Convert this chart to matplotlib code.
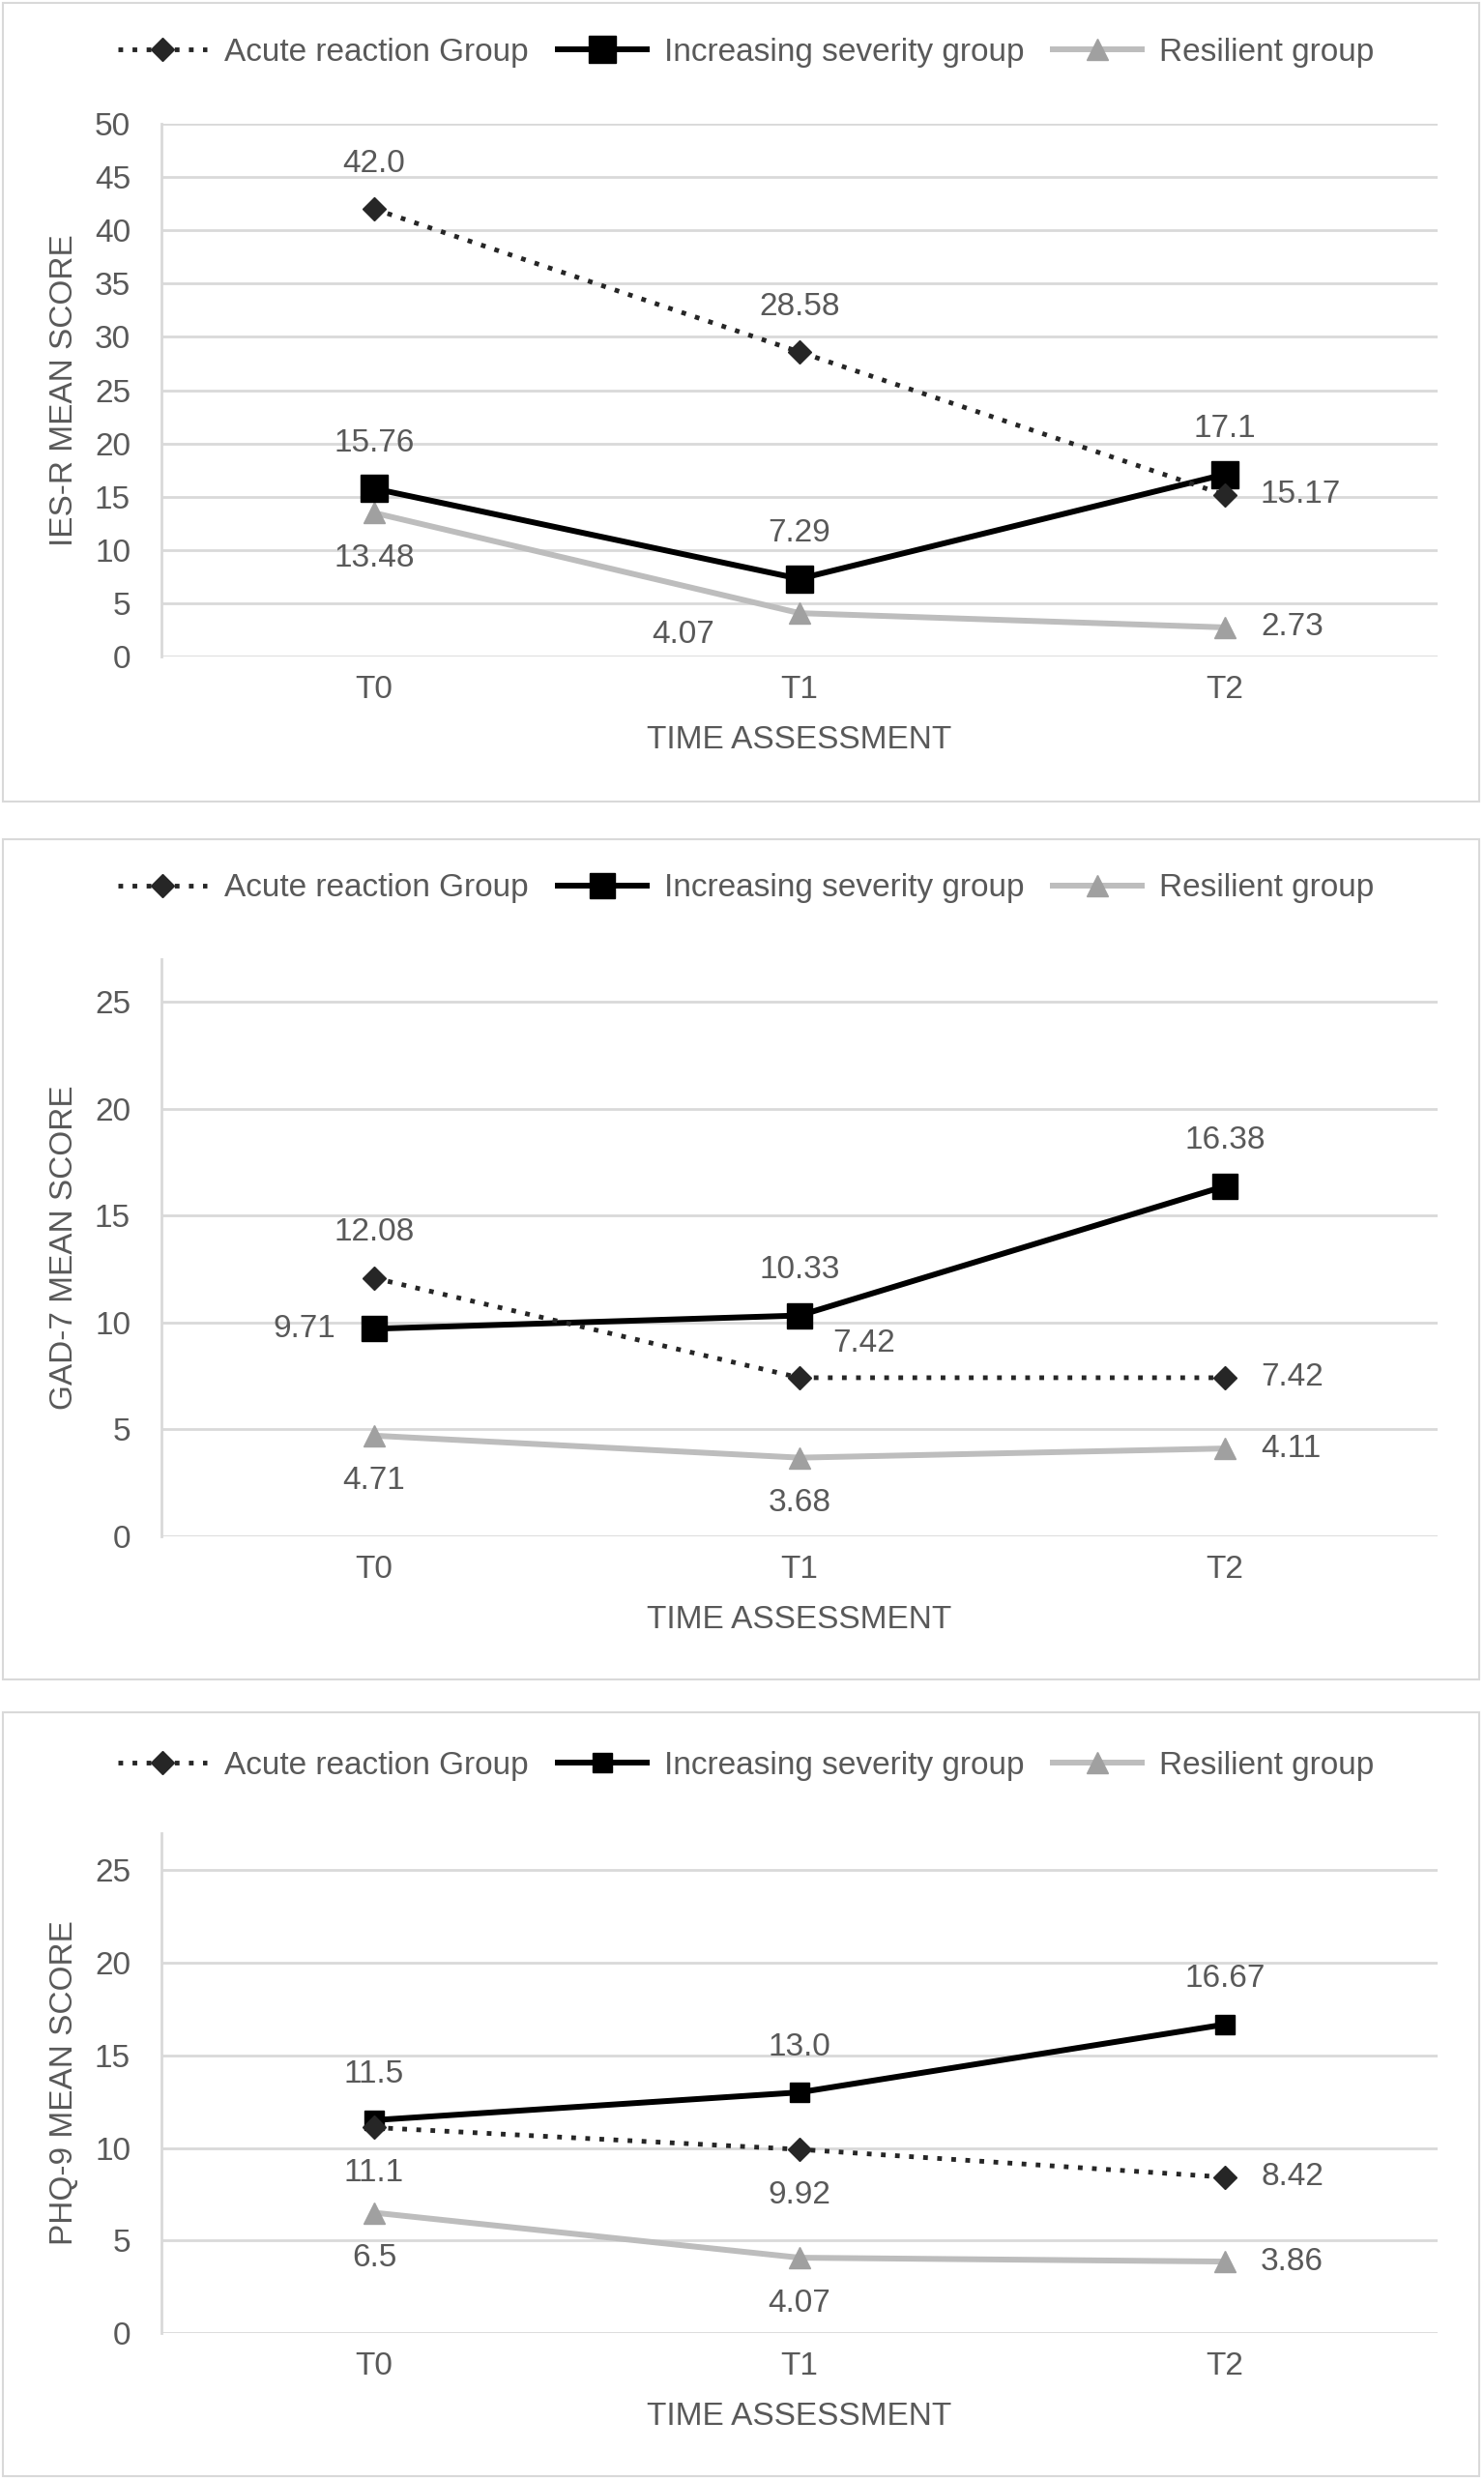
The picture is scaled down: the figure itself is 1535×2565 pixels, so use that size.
import matplotlib.pyplot as plt
from matplotlib.patches import Rectangle

plt.rcParams['font.family'] = ['Liberation Sans', 'DejaVu Sans']

times = ['T0', 'T1', 'T2']
groups = ['Acute reaction Group', 'Increasing severity group', 'Resilient group']

ies_acute = [42.0, 28.58, 15.17]
ies_increasing = [15.76, 7.29, 17.1]
ies_resilient = [13.48, 4.07, 2.73]

gad_acute = [12.08, 7.42, 7.42]
gad_increasing = [9.71, 10.33, 16.38]
gad_resilient = [4.71, 3.68, 4.11]

phq_acute = [11.1, 9.92, 8.42]
phq_increasing = [11.5, 13.0, 16.67]
phq_resilient = [6.5, 4.07, 3.86]

# label placement per point: a = above, b = below, r = right, l = left, custom tuples in px
ies_pos = [['a', 'a', 'r'], ['a', 'a', 'a'], ['b', (-120, -22), 'r']]
gad_pos = [['a', (67, 35), 'r'], ['l', 'a', 'a'], ['b', 'b', 'r']]
phq_pos = [['b', 'b', 'r'], ['a', 'a', 'a'], ['b', 'b', 'r']]

W, H = 1535, 2565
TXT = '#595959'
GRID = '#D9D9D9'
FS = 24
PX = 72 / 100  # px -> pt

fig = plt.figure(figsize=(W / 100, H / 100), dpi=100)


def label_points(ax, vals, pos):
    for i, (v, p) in enumerate(zip(vals, pos)):
        txt = str(v)
        if p == 'a':
            off, ha = (0, 47), 'center'
        elif p == 'b':
            off, ha = (0, -47), 'center'
        elif p == 'r':
            off, ha = (37, 0), 'left'
        elif p == 'l':
            off, ha = (-40, 0), 'right'
        else:
            off, ha = p, 'center'
        ax.annotate(txt, (i, v), xytext=(off[0] * PX, off[1] * PX),
                    textcoords='offset points', ha=ha, va='center',
                    fontsize=FS, color=TXT)


def panel(box, ax_px, ymax, ystep, ylab, acute, incr, resil, pos, sq, leg_y):
    top, bot = box
    fig.patches.append(Rectangle((3 / W, 1 - bot / H), 1527 / W, (bot - top) / H,
                                 transform=fig.transFigure, fill=False,
                                 edgecolor=GRID, lw=1.5))
    atop, abot = ax_px
    ax = fig.add_axes([167 / W, 1 - abot / H, 1320 / W, (abot - atop) / H])
    x = range(len(times))
    l1, = ax.plot(x, acute, color='#262626', lw=3.5, ls=(0, (1, 2)),
                  dash_capstyle='butt', marker='D', ms=12, mec='#262626', zorder=4)
    l2, = ax.plot(x, incr, color='black', lw=4.3, marker='s', ms=sq, zorder=3)
    l3, = ax.plot(x, resil, color='#BDBDBD', lw=4.3, marker='^', ms=16,
                  mfc='#A0A0A0', mec='#A0A0A0', zorder=2)
    label_points(ax, acute, pos[0])
    label_points(ax, incr, pos[1])
    label_points(ax, resil, pos[2])

    ax.set_xlim(-0.5, 2.5)
    ax.set_ylim(0, ymax)
    ax.set_yticks(range(0, int(ymax) + 1, ystep))
    ax.set_xticks(list(x))
    ax.set_xticklabels(times)
    ax.grid(axis='y', color=GRID, lw=2)
    ax.set_axisbelow(True)
    for s in ['top', 'right', 'bottom']:
        ax.spines[s].set_visible(False)
    ax.spines['left'].set_color(GRID)
    ax.spines['left'].set_linewidth(2)
    ax.tick_params(axis='y', length=0, pad=23, labelsize=FS, labelcolor=TXT)
    ax.tick_params(axis='x', length=0, pad=14, labelsize=FS, labelcolor=TXT)

    fig.text(67 / W, 1 - (atop + abot) / 2 / H, ylab, rotation=90, ha='center',
             va='center', fontsize=FS, color=TXT)
    fig.text(827 / W, 1 - (abot + 87) / H, 'TIME ASSESSMENT', ha='center',
             va='center', fontsize=FS, color=TXT)

    ax.legend([l1, l2, l3], groups, loc='center', ncol=3, frameon=False,
              bbox_to_anchor=(772 / W, 1 - leg_y / H), bbox_transform=fig.transFigure,
              fontsize=FS, labelcolor=TXT, handlelength=2.75, handletextpad=0.55,
              columnspacing=0.9, borderaxespad=0)
    return ax


panel((3, 829), (128, 679), 50, 5, 'IES-R MEAN SCORE',
      ies_acute, ies_increasing, ies_resilient, ies_pos, 20, 54)
panel((868, 1737), (992, 1589), 27, 5, 'GAD-7 MEAN SCORE',
      gad_acute, gad_increasing, gad_resilient, gad_pos, 19, 919)
panel((1771, 2561), (1896, 2413), 27, 5, 'PHQ-9 MEAN SCORE',
      phq_acute, phq_increasing, phq_resilient, phq_pos, 15, 1826)

fig.savefig('out.png', dpi=100)
